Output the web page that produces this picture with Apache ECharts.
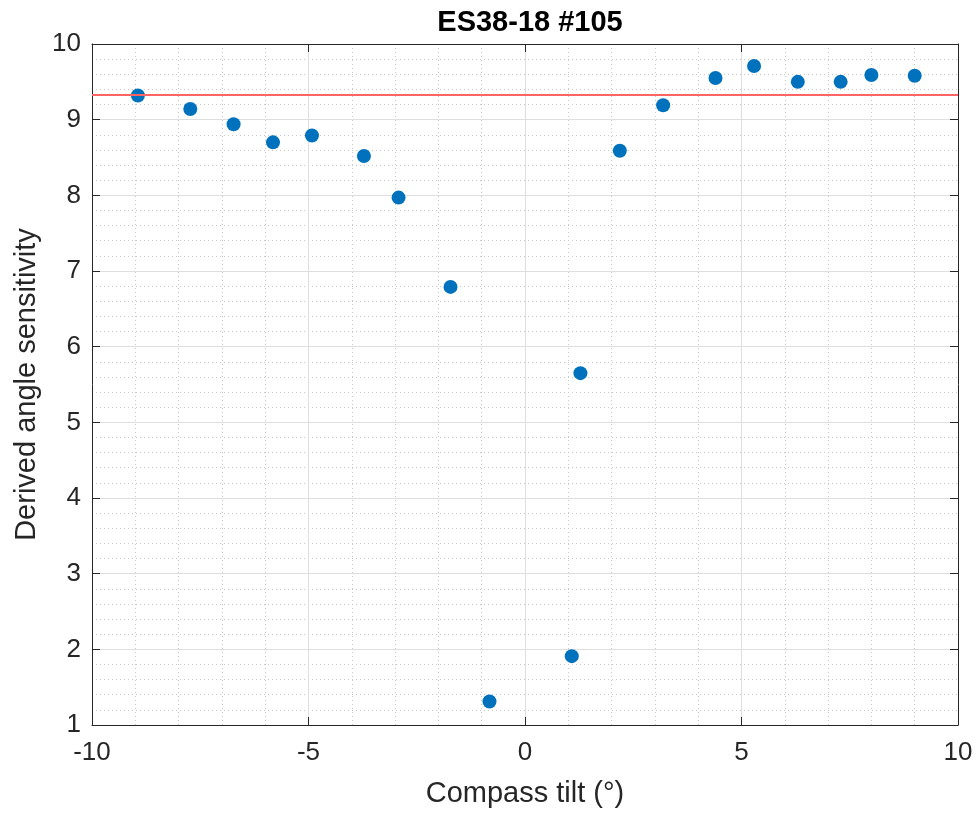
<!DOCTYPE html>
<html>
<head>
<meta charset="utf-8">
<title>ES38-18 #105</title>
<script src="https://cdn.jsdelivr.net/npm/echarts@6/dist/echarts.min.js"></script>
<style>
  html, body { margin: 0; padding: 0; background: #ffffff; }
  #chart { width: 978px; height: 813px; }
</style>
</head>
<body>
<div id="chart"></div>
<script>
// Compass tilt (degrees) for each measurement
const tilt = [-8.94, -7.73, -6.73, -5.82, -4.92, -3.72, -2.92, -1.72, -0.82,
              1.08, 1.28, 2.19, 3.19, 4.40, 5.29, 6.30, 7.29, 8.00, 9.00];
// Derived angle sensitivity at each tilt
const sensitivity = [9.32, 9.14, 8.94, 8.70, 8.79, 8.52, 7.97, 6.79, 1.31,
                     1.91, 5.65, 8.59, 9.19, 9.55, 9.71, 9.50, 9.50, 9.59, 9.58];
// Reference sensitivity level
const referenceLevel = 9.33;

const xRange = { min: -10, max: 10, interval: 5 };
const yRange = { min: 1, max: 10, interval: 1 };

const points = tilt.map((t, i) => [t, sensitivity[i]]);

const FONT = '"Liberation Sans", Arial, Helvetica, sans-serif';
const AXIS_COLOR = '#262626';

const majorGrid = { show: true, lineStyle: { color: '#dedede', width: 1 } };
const minorGrid = { show: true, lineStyle: { color: '#c8c8c8', width: 1, type: [1, 3] } };

function mainAxis(range, label, pos, gap, extra) {
  return Object.assign({
    type: 'value',
    position: pos,
    min: range.min, max: range.max, interval: range.interval,
    name: label,
    nameLocation: 'middle',
    nameGap: gap,
    nameTextStyle: { fontFamily: FONT, fontSize: 29, color: AXIS_COLOR },
    axisLine: { show: true, onZero: false, lineStyle: { color: AXIS_COLOR, width: 1 } },
    axisTick: { show: true, inside: true, length: 8, lineStyle: { color: AXIS_COLOR } },
    axisLabel: { fontFamily: FONT, fontSize: 26, color: AXIS_COLOR },
    splitLine: majorGrid,
    minorTick: { show: false, splitNumber: 5 },
    minorSplitLine: minorGrid
  }, extra || {});
}

function boxAxis(range, pos) {
  return {
    type: 'value',
    position: pos,
    min: range.min, max: range.max, interval: range.interval,
    axisLine: { show: true, onZero: false, lineStyle: { color: AXIS_COLOR, width: 1 } },
    axisTick: { show: true, inside: true, length: 8, lineStyle: { color: AXIS_COLOR } },
    axisLabel: { show: false },
    splitLine: { show: false }
  };
}

const chart = echarts.init(document.getElementById('chart'), null, { renderer: 'canvas' });

chart.setOption({
  backgroundColor: '#ffffff',
  animation: false,
  title: {
    text: 'ES38-18 #105',
    left: 525,
    top: 3,
    textAlign: 'center',
    textStyle: { fontFamily: FONT, fontSize: 29, fontWeight: 'bold', color: '#000000' }
  },
  grid: { left: 92, right: 20, top: 44, bottom: 84, containLabel: false },
  xAxis: [
    mainAxis(xRange, 'Compass tilt (°)', 'bottom', 54, {
      axisLabel: { fontFamily: FONT, fontSize: 26, color: AXIS_COLOR, margin: 15 }
    }),
    boxAxis(xRange, 'top')
  ],
  yAxis: [
    mainAxis(yRange, 'Derived angle sensitivity', 'left', 49, {
      axisLabel: { fontFamily: FONT, fontSize: 26, color: AXIS_COLOR, margin: 11 }
    }),
    boxAxis(yRange, 'right')
  ],
  series: [
    {
      type: 'scatter',
      xAxisIndex: 0,
      yAxisIndex: 0,
      data: points,
      symbol: 'circle',
      symbolSize: 14,
      itemStyle: { color: '#0072BD', opacity: 1 },
      z: 2
    },
    {
      type: 'line',
      xAxisIndex: 0,
      yAxisIndex: 0,
      data: [],
      z: 3,
      markLine: {
        silent: true,
        symbol: ['none', 'none'],
        label: { show: false },
        lineStyle: { color: '#ff6464', width: 2, type: 'solid', opacity: 1 },
        data: [{ yAxis: referenceLevel }]
      }
    }
  ]
});
</script>
</body>
</html>
